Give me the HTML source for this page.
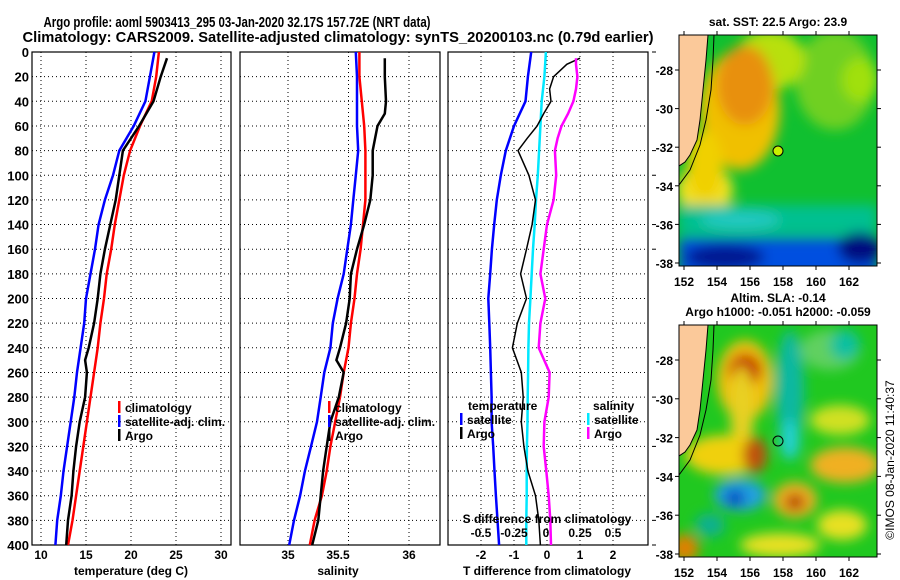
<!DOCTYPE html>
<html><head><meta charset="utf-8"><style>
html,body{margin:0;padding:0;background:#fff;}
svg{display:block;font-family:"Liberation Sans",sans-serif;font-weight:bold;}
.ttl{font-family:"Liberation Sans Narrow","Liberation Sans",sans-serif;}
</style></head><body>
<svg id="chart" width="900" height="580" viewBox="0 0 900 580" xmlns="http://www.w3.org/2000/svg">
<defs>
<filter id="blur6" x="-50%" y="-50%" width="200%" height="200%"><feGaussianBlur stdDeviation="6"/></filter>
<clipPath id="clipTop"><rect x="679" y="35" width="198" height="231"/></clipPath>
<clipPath id="clipBot"><rect x="679" y="325" width="198" height="232"/></clipPath>
</defs>
<text class="ttl" x="237" y="27" font-size="15" text-anchor="middle" textLength="387" lengthAdjust="spacingAndGlyphs">Argo profile: aoml 5903413_295 03-Jan-2020 32.17S 157.72E (NRT data)</text>
<text class="ttl" x="338" y="42" font-size="15" text-anchor="middle" textLength="631" lengthAdjust="spacingAndGlyphs">Climatology: CARS2009. Satellite-adjusted climatology: synTS_20200103.nc (0.79d earlier)</text>
<g id="plots"></g>

<g clip-path="url(#clipTop)">
<rect x="679" y="35" width="198" height="231" fill="#10c030"/>
<g filter="url(#blur6)">
<ellipse cx="835" cy="80" rx="40" ry="50" fill="#70d020"/>
<ellipse cx="770" cy="60" rx="35" ry="30" fill="#b8e010"/>
<ellipse cx="740" cy="110" rx="40" ry="60" fill="#f0c000"/>
<ellipse cx="745" cy="85" rx="28" ry="40" fill="#e89010"/>
<ellipse cx="705" cy="190" rx="28" ry="25" fill="#f0e020"/>
<ellipse cx="705" cy="165" rx="18" ry="35" fill="#f0d000"/>
<rect x="679" y="205" width="198" height="30" fill="#00c090"/>
<ellipse cx="740" cy="220" rx="40" ry="10" fill="#20c8c0"/>
<rect x="679" y="238" width="198" height="40" fill="#0050e0"/>
<ellipse cx="725" cy="257" rx="40" ry="12" fill="#001890"/>
<ellipse cx="860" cy="248" rx="22" ry="16" fill="#001080"/>
<ellipse cx="860" cy="80" rx="18" ry="22" fill="#a0e010"/>
</g>
<path d="M679,35 L708,35 L706,60 L703,90 L700,120 L697,140 L690,155 L685,162 L679,166 Z" fill="#fbc99a"/>
<path d="M714,35 L713,60 L711,90 L706,120 L700,145 L690,170 L679,185" fill="none" stroke="#000" stroke-width="1"/>
<path d="M708,35 L706,60 L703,90 L700,120 L697,140 L690,155 L685,162 L679,166" fill="none" stroke="#000" stroke-width="1"/>
<circle cx="778" cy="151" r="5" fill="#c8f000" stroke="#000" stroke-width="1"/>
</g>
<rect x="679" y="35" width="198" height="231" fill="none" stroke="#000" stroke-width="1"/>
<text x="778" y="26" font-size="12" text-anchor="middle">sat. SST: 22.5 Argo: 23.9</text>

<g clip-path="url(#clipBot)">
<rect x="679" y="325" width="198" height="232" fill="#20c820"/>
<g filter="url(#blur6)">
<ellipse cx="745" cy="380" rx="28" ry="40" fill="#f0c010"/>
<ellipse cx="745" cy="370" rx="16" ry="16" fill="#c00000"/>
<ellipse cx="742" cy="410" rx="12" ry="45" fill="#e8d020"/>
<ellipse cx="725" cy="455" rx="40" ry="20" fill="#f0d010"/>
<ellipse cx="755" cy="455" rx="12" ry="18" fill="#c05010"/>
<ellipse cx="790" cy="390" rx="14" ry="60" fill="#10b8a0"/>
<ellipse cx="790" cy="440" rx="10" ry="20" fill="#20d0d0"/>
<ellipse cx="740" cy="495" rx="26" ry="16" fill="#20a0e0"/>
<ellipse cx="735" cy="498" rx="10" ry="8" fill="#0040c0"/>
<ellipse cx="795" cy="500" rx="22" ry="18" fill="#f0b020"/>
<ellipse cx="795" cy="502" rx="10" ry="8" fill="#b03000"/>
<ellipse cx="845" cy="465" rx="35" ry="18" fill="#f0b020"/>
<ellipse cx="840" cy="420" rx="30" ry="15" fill="#d0e020"/>
<ellipse cx="830" cy="350" rx="30" ry="20" fill="#60d060"/>
<ellipse cx="845" cy="345" rx="15" ry="15" fill="#10c0a0"/>
<ellipse cx="842" cy="525" rx="25" ry="15" fill="#e8e020"/>
<ellipse cx="685" cy="548" rx="14" ry="14" fill="#e08000"/>
<ellipse cx="710" cy="525" rx="15" ry="12" fill="#10b090"/>
<ellipse cx="780" cy="545" rx="40" ry="12" fill="#e8e020"/>
</g>
<path d="M679,325 L708,325 L706,350 L703,380 L700,410 L697,430 L690,445 L685,452 L679,456 Z" fill="#fbc99a"/>
<path d="M714,325 L713,350 L711,380 L706,410 L700,435 L690,460 L679,475" fill="none" stroke="#000" stroke-width="1"/>
<path d="M708,325 L706,350 L703,380 L700,410 L697,430 L690,445 L685,452 L679,456" fill="none" stroke="#000" stroke-width="1"/>
<circle cx="778" cy="441" r="5" fill="none" stroke="#000" stroke-width="1"/>
</g>
<rect x="679" y="325" width="198" height="232" fill="none" stroke="#000" stroke-width="1"/>
<text x="778" y="302" font-size="12" text-anchor="middle">Altim. SLA: -0.14</text>
<text x="778" y="316" font-size="12" text-anchor="middle">Argo h1000: -0.051 h2000: -0.059</text>
<text transform="translate(894,460) rotate(-90)" font-size="12" font-weight="normal" text-anchor="middle">©IMOS 08-Jan-2020 11:40:37</text>
</svg>
<script>
const depths = [0,20,40,60,80,100,120,140,160,180,200,220,240,260,280,300,320,340,360,380,400];
const tempClim = [23.1,22.8,22.3,21.0,19.9,19.2,18.7,18.2,17.8,17.3,17.0,16.6,16.3,15.9,15.5,15.1,14.7,14.3,13.9,13.5,13.0];
const tempSat  = [22.6,22.1,21.6,20.3,18.7,18.0,17.1,16.4,16.0,15.5,15.0,14.8,14.4,14.0,13.7,13.3,12.9,12.5,12.2,11.8,11.6];
const argoDepths = [5,20,40,50,60,70,80,100,120,140,160,180,200,220,240,250,260,280,300,320,340,360,380,400];
const tempArgo = [24.0,23.3,22.5,21.7,20.9,20.0,19.1,18.7,18.3,17.7,17.1,16.6,16.3,15.9,15.3,14.9,15.1,14.9,14.3,13.9,13.6,13.4,13.0,12.8];
const salClim = [35.59,35.59,35.61,35.63,35.64,35.64,35.64,35.62,35.60,35.57,35.55,35.52,35.50,35.46,35.43,35.39,35.35,35.32,35.28,35.22,35.18];
const salSat  = [35.56,35.57,35.57,35.57,35.58,35.56,35.54,35.52,35.49,35.46,35.41,35.37,35.35,35.30,35.27,35.24,35.19,35.14,35.10,35.05,35.01];
const salArgo = [35.80,35.80,35.81,35.80,35.74,35.72,35.70,35.70,35.68,35.63,35.57,35.52,35.51,35.48,35.43,35.40,35.46,35.42,35.35,35.32,35.29,35.27,35.25,35.20];
const tDiffSat = [-0.48,-0.58,-0.65,-1.0,-1.25,-1.4,-1.52,-1.6,-1.67,-1.72,-1.78,-1.75,-1.72,-1.7,-1.68,-1.68,-1.63,-1.59,-1.55,-1.5,-1.45];
const sDiffSat = [-0.008,-0.02,-0.04,-0.05,-0.06,-0.07,-0.083,-0.093,-0.106,-0.116,-0.126,-0.136,-0.141,-0.143,-0.146,-0.148,-0.152,-0.154,-0.154,-0.157,-0.157];
const diffDepths = [5,10,20,30,40,50,60,70,80,100,120,140,160,180,200,220,240,260,280,300,320,340,360,380,400];
const tDiffArgo = [1.0,0.6,0.2,0.08,0.12,-0.1,-0.3,-0.6,-0.88,-0.55,-0.35,-0.45,-0.62,-0.8,-0.62,-0.9,-1.05,-0.78,-0.72,-0.78,-0.7,-0.58,-0.35,-0.25,-0.2];
const sDiffArgo = [0.22,0.22,0.23,0.22,0.20,0.16,0.11,0.08,0.06,0.07,0.05,0.0,-0.025,-0.05,-0.013,-0.05,-0.063,0.02,0.013,-0.02,-0.025,-0.005,0.013,0.025,0.03];
const depthTicks = [0,20,40,60,80,100,120,140,160,180,200,220,240,260,280,300,320,340,360,380,400];
const rightTicks = [0,80,100,140,160,280,320,380,400];
const tempTicks = [10,15,20,25,30];
const salTicks = [35,35.5,36];
const tdTicks = [-2,-1,0,1,2];
const sdTicks = [-0.5,-0.25,0,0.25,0.5];
const latTicks = [-28,-30,-32,-34,-36,-38];
const lonTicks = [152,154,156,158,160,162];

const NS='http://www.w3.org/2000/svg';
const svg=document.getElementById('chart');
const plots=svg.querySelector('g');
function el(tag,attrs,parent,txt){const e=document.createElementNS(NS,tag);for(const k in attrs)e.setAttribute(k,attrs[k]);if(txt!==undefined)e.textContent=txt;(parent||plots).appendChild(e);return e;}
const yTop=52,yBot=545;
function yScale(d){return yTop+(d/400)*(yBot-yTop);}
function mkX(x0,v0,x1,v1){return v=>x0+(v-v0)*(x1-x0)/(v1-v0);}
const xT=mkX(41,10,221,30), xS=mkX(288,35,409,36), xTD=mkX(547,0,613,2), xSD=mkX(547,0,613,0.5);

function panel(name,left,right,gridXs){
  const g=el('g',{});
  
  
  depthTicks.forEach(d=>{el('line',{x1:left,x2:right,y1:yScale(d),y2:yScale(d),stroke:'#000','stroke-width':1,'stroke-dasharray':'1,3'},g);});
  gridXs.forEach(x=>{el('line',{x1:x,x2:x,y1:yTop,y2:yBot,stroke:'#000','stroke-width':1,'stroke-dasharray':'1,3'},g);});
  const r=el('rect',{x:left,y:yTop,width:right-left,height:yBot-yTop,fill:'none',stroke:'#000','stroke-width':1.2},g);
  
  
  return g;
}
function line(g,name,ds,vs,xf,color,w){
  const pts=ds.map((d,i)=>xf(vs[i]).toFixed(1)+','+yScale(d).toFixed(1)).join(' ');
  const p=el('polyline',{points:pts,fill:'none',stroke:color,'stroke-width':w},g);
  
  
}
function txt(x,y,s,anchor,size,name){
  const t=el('text',{x:x,y:y,'font-size':size||12,'text-anchor':anchor||'middle'},plots,s);
  
  
  return t;
}
function legend(x,y,color,label,name){
  const r=el('rect',{x:x,y:y-11,width:2.5,height:12,fill:color});
  
  
  if(label)txt(x+7,y,label,'start',12,name);
}

const g1=panel('temperature-panel',32,231,tempTicks.map(xT));
line(g1,'temp-climatology-line',depths,tempClim,xT,'#ff0000',2.5);
line(g1,'temp-satellite-line',depths,tempSat,xT,'#0000ff',2.5);
line(g1,'temp-argo-line',argoDepths,tempArgo,xT,'#000000',2.5);
depthTicks.forEach(d=>txt(29,yScale(d)+5,String(d),'end',13,'depth-tick-'+d));
tempTicks.forEach(v=>txt(xT(v),559,String(v),'middle',12,'temp-tick-'+v));
txt(131,575,'temperature (deg C)','middle',12,'temp-x-axis-title');
legend(118,412,'#ff0000','climatology','temp-legend-climatology');
legend(118,426,'#0000ff','satellite-adj. clim.','temp-legend-satellite');
legend(118,440,'#000000','Argo','temp-legend-argo');

const g2=panel('salinity-panel',240,440,salTicks.map(xS));
line(g2,'sal-climatology-line',depths,salClim,xS,'#ff0000',2.5);
line(g2,'sal-satellite-line',depths,salSat,xS,'#0000ff',2.5);
line(g2,'sal-argo-line',argoDepths,salArgo,xS,'#000000',2.5);
salTicks.forEach(v=>txt(v===35.5?338:xS(v),559,String(v),'middle',12,'sal-tick-'+v));
txt(338,575,'salinity','middle',12,'sal-x-axis-title');
legend(328,412,'#ff0000','climatology','sal-legend-climatology');
legend(328,426,'#0000ff','satellite-adj. clim.','sal-legend-satellite');
legend(328,440,'#000000','Argo','sal-legend-argo');

const g3=panel('difference-panel',448,648,tdTicks.map(xTD));
rightTicks.forEach(d=>{el('line',{x1:652,x2:656,y1:yScale(d),y2:yScale(d),stroke:'#000'});});
line(g3,'tdiff-satellite-line',depths,tDiffSat,xTD,'#0000ff',2.5);
line(g3,'sdiff-satellite-line',depths,sDiffSat,xSD,'#00e8ff',2.5);
line(g3,'tdiff-argo-line',diffDepths,tDiffArgo,xTD,'#000000',1.5);
line(g3,'sdiff-argo-line',diffDepths,sDiffArgo,xSD,'#ff00ff',2.5);
tdTicks.forEach(v=>txt(xTD(v),559,String(v),'middle',12,'tdiff-tick-'+v));
sdTicks.forEach(v=>txt(xSD(v)-(v===0?1:0),537,String(v),'middle',12,'sdiff-tick-'+v));
txt(547,523,'S difference from climatology','middle',12,'sdiff-axis-title');
txt(547,575,'T difference from climatology','middle',12,'tdiff-x-axis-title');
txt(468,410,'temperature','start',12,'diff-legend-temperature-heading');
txt(593,410,'salinity','start',12,'diff-legend-salinity-heading');
legend(460,424,'#0000ff','satellite','diff-legend-t-satellite');
legend(460,438,'#000000','Argo','diff-legend-t-argo');
legend(587,424,'#00e8ff','satellite','diff-legend-s-satellite');
legend(587,438,'#ff00ff','Argo','diff-legend-s-argo');

function mapAxes(top,bot,name){
  const lonX=mkX(684,152,849,162), latY=mkX(top+35,-28,bot-3,-38);
  lonTicks.forEach(v=>{const x=lonX(v);
    el('line',{x1:x,x2:x,y1:bot,y2:bot+4,stroke:'#000'});
    el('line',{x1:x,x2:x,y1:top,y2:top-4,stroke:'#000'});
    txt(x,bot+20,String(v),'middle',12,name+'-lon-tick-'+v);});
  latTicks.forEach(v=>{const y=latY(v);
    el('line',{x1:675,x2:679,y1:y,y2:y,stroke:'#000'});
    el('line',{x1:877,x2:881,y1:y,y2:y,stroke:'#000'});
    txt(673,y+5,String(v),'end',12,name+'-lat-tick-'+v);});
}
mapAxes(35,266,'sst-map');
mapAxes(325,557,'sla-map');
</script>
</body></html>
